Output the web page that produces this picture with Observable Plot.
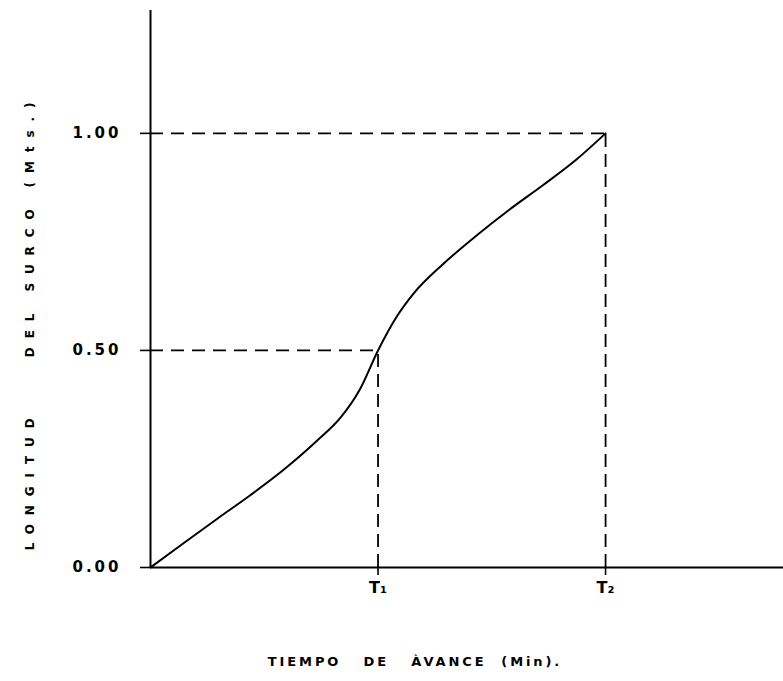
<!DOCTYPE html>
<html>
<head>
<meta charset="utf-8">
<script src="https://cdn.jsdelivr.net/npm/d3@7"></script>
<script src="https://cdn.jsdelivr.net/npm/@observablehq/plot@0.6"></script>
<style>
  html, body { margin: 0; padding: 0; background: #fff; }
  .ylab text { letter-spacing: 8.9px; white-space: pre; }
  .xlab text { letter-spacing: 2.9px; white-space: pre; }
  .ytk text { letter-spacing: 3px; }
</style>
</head>
<body>
<div id="chart"></div>
<script>
// Advance curve: time (in units of T1) vs furrow length (m)
const tiempo   = [0, 0.145, 0.295, 0.44, 0.585, 0.734, 0.835, 0.92, 1.0, 1.086, 1.156, 1.284, 1.429, 1.574, 1.723, 1.868, 2.0];
const longitud = [0, 0.056, 0.113, 0.167, 0.225, 0.293, 0.345, 0.41, 0.5, 0.581, 0.631, 0.698, 0.763, 0.823, 0.880, 0.938, 1.0];

// Reference marks T1, T2 and their lengths
const tRefs = [1, 2];
const tRefLabels = ["T\u2081", "T\u2082"];
const lRefs = [0.5, 1.0];

const yTicks = [0, 0.5, 1.0];
const xLabel = "TIEMPO   DE   ÀVANCE  (Min).";
const yLabel = "LONGITUD    DEL SURCO (Mts.)";

const curve = tiempo.map((t, i) => ({t, l: longitud[i]}));
const guides = tRefs.map((t, i) => ({t, l: lRefs[i]}));

const font = "'DejaVu Sans', sans-serif";

const chart = Plot.plot({
  width: 783,
  height: 681,
  marginLeft: 150,
  marginRight: 0,
  marginTop: 10,
  marginBottom: 114,
  style: {fontFamily: font, background: "#fff", color: "#000"},
  x: {domain: [0, 2.782]},
  y: {domain: [0, 1.283]},
  marks: [
    // dashed guides
    Plot.ruleY(guides, {y: "l", x1: () => 0, x2: "t", stroke: "#000", strokeWidth: 1.8, strokeDasharray: "13,8"}),
    Plot.ruleX(guides, {x: "t", y1: () => 0, y2: "l", stroke: "#000", strokeWidth: 1.8, strokeDasharray: "13,7"}),
    // axes lines
    Plot.ruleX([0], {stroke: "#000", strokeWidth: 2}),
    Plot.ruleY([0], {stroke: "#000", strokeWidth: 2}),
    Plot.axisY({
      ticks: yTicks, tickSize: 10, tickPadding: 19, strokeWidth: 1.6,
      tickFormat: d3.format(".2f"), fontSize: 15, fontWeight: "bold",
      label: null, className: "ytk"
    }),
    Plot.axisX({
      ticks: tRefs, tickSize: 8, tickPadding: 6, strokeWidth: 1.6,
      tickFormat: d => tRefLabels[tRefs.indexOf(d)], fontSize: 16, fontWeight: "bold",
      label: null
    }),
    // curve
    Plot.line(curve, {x: "t", y: "l", curve: "monotone-x", stroke: "#000", strokeWidth: 2}),
    // axis titles
    Plot.text([xLabel], {text: d => d, frameAnchor: "bottom", textAnchor: "middle", dx: -52, dy: 98, fontSize: 13, fontWeight: "bold", fill: "#000", className: "xlab"}),
    Plot.text([yLabel], {text: d => d, frameAnchor: "left", textAnchor: "middle", rotate: -90, dx: -120, dy: 33, fontSize: 12, fontWeight: "bold", fill: "#000", className: "ylab"})
  ]
});

document.getElementById("chart").appendChild(chart);
</script>
</body>
</html>
